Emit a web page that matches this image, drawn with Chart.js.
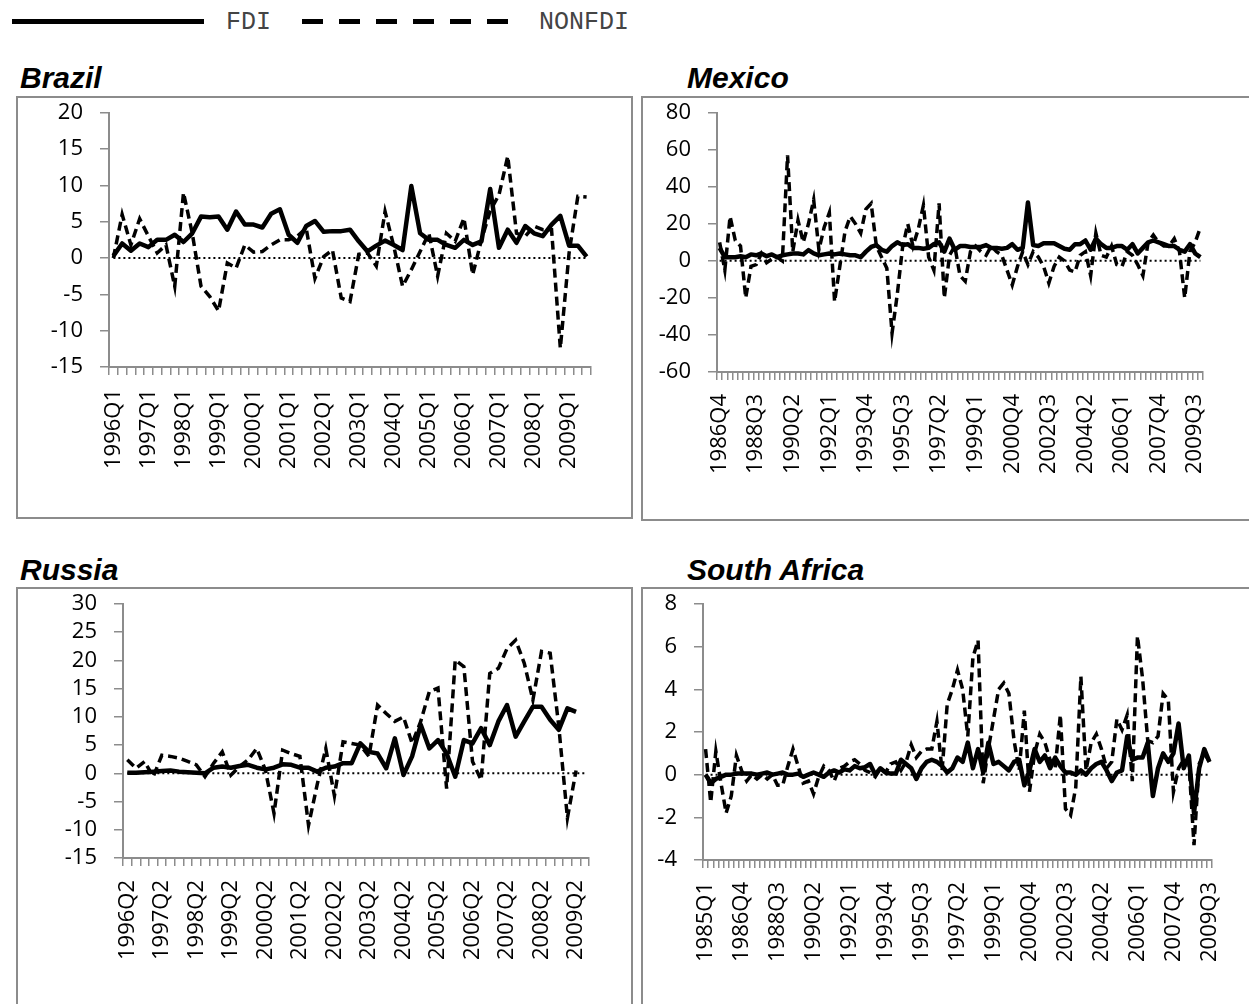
<!DOCTYPE html>
<html>
<head>
<meta charset="utf-8">
<script src="https://cdn.jsdelivr.net/npm/chart.js@4.4.1/dist/chart.umd.min.js"></script>
<style>
  body { margin: 0; background: #fff; width: 1249px; height: 1004px; overflow: hidden; position: relative; }
  .title { position: absolute; font: italic bold 30px "Liberation Sans", Arial, sans-serif; line-height: 30px; color: #000; }
  .box { position: absolute; border: 2px solid #8c8c8c; box-sizing: border-box; background: #fff; }
  .legtext { position: absolute; font: 25px "Liberation Mono", monospace; color: #444; line-height: 25px; }
</style>
</head>
<body>

<!-- общая легенда -->
<div style="position:absolute;left:12px;top:19px;width:192px;height:5px;background:#000"></div>
<div class="legtext" style="left:226px;top:10px">FDI</div>
<div style="position:absolute;left:302px;top:19px;width:208px;height:5px;background:repeating-linear-gradient(to right,#000 0 21px,transparent 21px 37px)"></div>
<div class="legtext" style="left:539px;top:10px">NONFDI</div>

<div class="title" style="left:20px;top:63px">Brazil</div>
<div class="title" style="left:687px;top:63px">Mexico</div>
<div class="title" style="left:20px;top:555px">Russia</div>
<div class="title" style="left:687px;top:555px">South Africa</div>

<div class="box" style="left:16px;top:96px;width:617px;height:423px"><canvas id="brazil"></canvas></div>
<div class="box" style="left:641px;top:96px;width:620px;height:425px"><canvas id="mexico"></canvas></div>
<div class="box" style="left:16px;top:587px;width:617px;height:430px"><canvas id="russia"></canvas></div>
<div class="box" style="left:641px;top:587px;width:620px;height:430px"><canvas id="safrica"></canvas></div>

<script>

const brazilFdi = [0.3, 2.0, 1.0, 2.0, 1.5, 2.5, 2.5, 3.2, 2.2, 3.4, 5.7, 5.6, 5.7, 3.9, 6.4, 4.6, 4.6, 4.2, 6.1, 6.7,
  3.2, 2.1, 4.4, 5.1, 3.6, 3.7, 3.7, 3.9, 2.3, 0.9, 1.7, 2.4, 1.8, 1.1, 9.9, 3.4, 2.5, 2.5, 1.8, 1.4,
  2.5, 1.8, 2.3, 9.5, 1.4, 3.9, 2.1, 4.4, 3.4, 3.0, 4.6, 5.8, 1.7, 1.7, 0.2];
const brazilNonfdi = [0, 6.0, 1.8, 5.4, 3.0, 0.7, 1.8, -3.9, 9.0, 3.4, -3.9, -5.3, -7.3, -0.7, -1.4, 1.8, 0.8, 0.9, 1.8, 2.5,
  2.5, 3.0, 4.1, -2.8, 0.2, 1.1, -5.5, -6.0, 0.5, 0.7, -1.1, 6.4, 1.6, -3.9, -1.6, 0.9, 3.4, -2.5, 3.4, 2.3,
  5.5, -2.3, 2.5, 6.5, 8.7, 14.0, 3.4, 3.0, 4.4, 3.9, 3.9, -12.4, 0.7, 8.5, 8.4];

const mexicoFdi = [7, 2, 2, 2, 2.5, 2, 3.5, 3, 4, 2.5, 3.5, 2, 3, 3.5, 4, 4, 3.5, 5.8, 4, 3,
  3.5, 4, 3.5, 4, 3.5, 3, 3, 2, 5, 7.5, 8.5, 6, 5, 8, 10, 8.5, 9, 7, 7, 6.5,
  7, 9, 10, 5, 12, 6, 8, 8, 7.5, 7.5, 7.5, 8.5, 7, 7, 6.5, 7, 9, 6, 7, 31.5,
  8.5, 8, 9.5, 9.5, 9.5, 8, 6.5, 6, 9, 9, 11, 6, 12, 9, 7, 7, 8, 8, 6, 9,
  4, 7, 10, 11, 10, 9, 8, 8, 6, 5, 9, 4, 2];
const mexicoNonfdi = [10, -5, 24, 11, 8, -20, -3, -2, 4, -1, 1, 2, 0, 57, 5, 22, 10, 20, 33, 6,
  18, 26, -22, -3, 16, 24, 20, 15, 28, 31, 8, 2, -4, -39, -18, 7, 20, 8, 17, 30,
  2, -5, 31, -20, 3, 8, -8, -11, 5, 8, 5, 3, 8, 5, 3, -5, -13, -3, 5, -2,
  5, 2, -3, -12, -3, 2, 0, -5, -6, 3, 5, -8, 15, 3, 2, 8, -2, -3, 5, 3,
  -2, -8, 10, 14, 10, 8, 8, 12, 5, -20, 5, 10, 18];

// 2009Q3 у России пустой
const russiaFdi = [0.1, 0.1, 0.2, 0.3, 0.4, 0.5, 0.3, 0.2, 0.1, 0.0, 1.0, 1.2, 1.0, 1.3, 1.5, 1.0, 0.7, 1.0, 1.6, 1.5,
  1.0, 1.0, 0.3, 1.0, 1.2, 1.8, 1.8, 5.3, 3.8, 3.5, 0.9, 6.2, -0.3, 3.0, 8.6, 4.4, 5.9, 3.5, -0.6, 5.9,
  5.3, 8.0, 5.0, 9.2, 12.1, 6.5, 9.2, 11.8, 11.8, 9.5, 7.7, 11.5, 10.9, null];
const russiaNonfdi = [2.4, 0.9, 2.1, -0.6, 3.2, 3.0, 2.7, 2.1, 1.5, -0.6, 1.8, 3.8, -0.3, 1.2, 2.4, 4.4, 0.6, -7.1, 4.1, 3.5,
  3.0, -9.2, -2.0, 4.4, -4.0, 5.6, 5.3, 5.0, 3.0, 12.1, 10.6, 9.2, 10.0, 5.3, 9.2, 14.5, 15.1, -2.7, 20.1, 18.9,
  2.1, -1.2, 17.7, 18.6, 22.1, 23.6, 19.5, 13.0, 21.6, 21.3, 8.3, -7.9, 0.5, null];

const safricaFdi = [0.0, -0.4, -0.2, -0.1, 0.0, 0.0, 0.05, 0.05, 0.05, 0.05, 0.0, 0.05, 0.1, 0.0, 0.05, 0.1, 0.0, 0.0, 0.05, -0.1,
  0.0, 0.1, 0.0, -0.1, 0.1, 0.2, 0.1, 0.25, 0.2, 0.4, 0.3, 0.35, 0.5, 0.0, 0.3, 0.1, 0.05, 0.05, 0.7, 0.5,
  0.3, -0.2, 0.3, 0.6, 0.7, 0.6, 0.4, 0.1, 0.3, 0.8, 0.6, 1.5, 0.3, 1.2, 0.1, 1.5, 0.5, 0.6, 0.4, 0.2,
  0.6, 0.7, -0.5, 0.2, 1.2, 0.6, 0.9, 0.3, 0.8, 0.4, 0.1, 0.1, 0.0, 0.2, 0.0, 0.3, 0.5, 0.6, 0.2, -0.3,
  0.1, 0.2, 1.8, 0.7, 0.8, 0.8, 1.5, -1.0, 0.3, 1.0, 0.6, 1.0, 2.4, 0.3, 0.9, -1.8, 0.3, 1.2, 0.6];
const safricaNonfdi = [1.2, -1.3, 1.1, -0.4, -1.8, -1.0, 0.9, 0.2, -0.3, 0.0, -0.2, 0.0, -0.2, 0.0, -0.5, -0.5, 0.4, 1.2, 0.4, -0.4,
  -0.3, -0.9, -0.1, 0.4, 0.2, -0.3, 0.3, 0.4, 0.6, 0.7, 0.5, 0.2, 0.1, -0.1, 0.3, 0.1, 0.5, 0.6, 0.2, 0.6,
  1.4, 0.8, 1.1, 1.2, 1.2, 2.5, 0.2, 3.3, 4.0, 4.9, 4.0, 1.8, 5.5, 6.3, -0.4, 1.2, 2.6, 4.0, 4.3, 3.8,
  1.6, 0.2, 3.0, -0.8, 1.0, 1.9, 1.5, 0.7, 0.3, 2.8, -1.6, -1.9, -0.6, 4.6, 0.2, 1.5, 1.9, 1.2, 0.3, 0.6,
  2.6, 2.1, 2.8, -0.3, 6.5, 4.5, 1.6, 1.5, 1.8, 3.8, 3.5, -0.8, 0.3, 0.7, 0.6, -3.3, 0.5, 1.0, 0.6];

// подписи кварталов: "1996Q1", "1996Q2", ...
function quarters(year, q, n) {
  const out = [];
  for (let i = 0; i < n; i++) {
    const k = (q - 1) + i;
    out.push((year + Math.floor(k / 4)) + "Q" + (k % 4 + 1));
  }
  return out;
}

const brazilLabels = quarters(1996, 1, brazilFdi.length);
const mexicoLabels = quarters(1986, 4, mexicoFdi.length);
const russiaLabels = quarters(1996, 2, russiaFdi.length);
const safricaLabels = quarters(1985, 1, safricaFdi.length);

const AXIS_GRAY = "#8c8c8c";
const TICK_FONT = { family: "'Open Sans', sans-serif", size: 22 };
const CAT_FONT = { family: "'Open Sans', sans-serif", size: 22 };

// пунктирная нулевая линия от первого до последнего квартала
const zeroLine = {
  id: "zeroLine",
  beforeDatasetsDraw(chart) {
    const { ctx, scales: { x, y } } = chart;
    const n = chart.data.labels.length;
    const py = y.getPixelForValue(0);
    ctx.save();
    ctx.strokeStyle = "#000";
    ctx.lineWidth = 2;
    ctx.setLineDash([2, 3]);
    ctx.beginPath();
    ctx.moveTo(x.getPixelForValue(0), py);
    ctx.lineTo(x.getPixelForValue(n - 1), py);
    ctx.stroke();
    ctx.restore();
  }
};

function drawPanel(id, labels, fdi, nonfdi, yMin, yMax, step, every, area) {
  new Chart(document.getElementById(id), {
    type: "line",
    data: {
      labels,
      datasets: [
        {
          label: "FDI",
          data: fdi,
          borderColor: "#000",
          borderWidth: 4.5,
          pointRadius: 0,
          tension: 0,
          borderJoinStyle: "round",
          spanGaps: false
        },
        {
          label: "NONFDI",
          data: nonfdi,
          borderColor: "#000",
          borderWidth: 3.5,
          borderDash: [9, 5],
          pointRadius: 0,
          tension: 0,
          spanGaps: false
        }
      ]
    },
    options: {
      responsive: true,
      maintainAspectRatio: false,
      animation: false,
      devicePixelRatio: 1,
      layout: { padding: { left: 0, top: area.top, right: area.right, bottom: 0 } },
      plugins: { legend: { display: false }, tooltip: { enabled: false } },
      scales: {
        x: {
          type: "category",
          offset: true,
          afterFit: (s) => { s.height = area.xHeight; },
          border: { color: AXIS_GRAY, width: 2 },
          grid: { offset: true, drawOnChartArea: false, drawTicks: true, tickLength: 8, color: AXIS_GRAY, lineWidth: 1.5 },
          ticks: {
            autoSkip: false,
            maxRotation: 90,
            minRotation: 90,
            padding: 14,
            color: "#000",
            font: CAT_FONT,
            callback: (v, i) => (i % every === 0 ? labels[i] : "")
          }
        },
        y: {
          min: yMin,
          max: yMax,
          // ширина оси фиксирована, а запас сверху под подпись не нужен
          afterFit: (s) => { s.width = area.left; s.paddingTop = 0; s.paddingBottom = 0; },
          border: { color: AXIS_GRAY, width: 2 },
          grid: { drawOnChartArea: false, drawTicks: true, tickLength: 9, color: AXIS_GRAY, lineWidth: 1.5 },
          ticks: { stepSize: step, autoSkip: false, padding: 17, color: "#000", font: TICK_FONT }
        }
      }
    },
    plugins: [zeroLine]
  });
}

drawPanel("brazil", brazilLabels, brazilFdi, brazilNonfdi, -15, 20, 5, 4,
  { left: 91, top: 14.7, right: 40, xHeight: 150 });
drawPanel("mexico", mexicoLabels, mexicoFdi, mexicoNonfdi, -60, 80, 20, 7,
  { left: 74, top: 14.7, right: 56, xHeight: 147 });
drawPanel("russia", russiaLabels, russiaFdi, russiaNonfdi, -15, 30, 5, 4,
  { left: 105, top: 15, right: 42, xHeight: 157 });
drawPanel("safrica", safricaLabels, safricaFdi, safricaNonfdi, -4, 8, 2, 7,
  { left: 60, top: 15, right: 47, xHeight: 155 });
</script>
</body>
</html>
